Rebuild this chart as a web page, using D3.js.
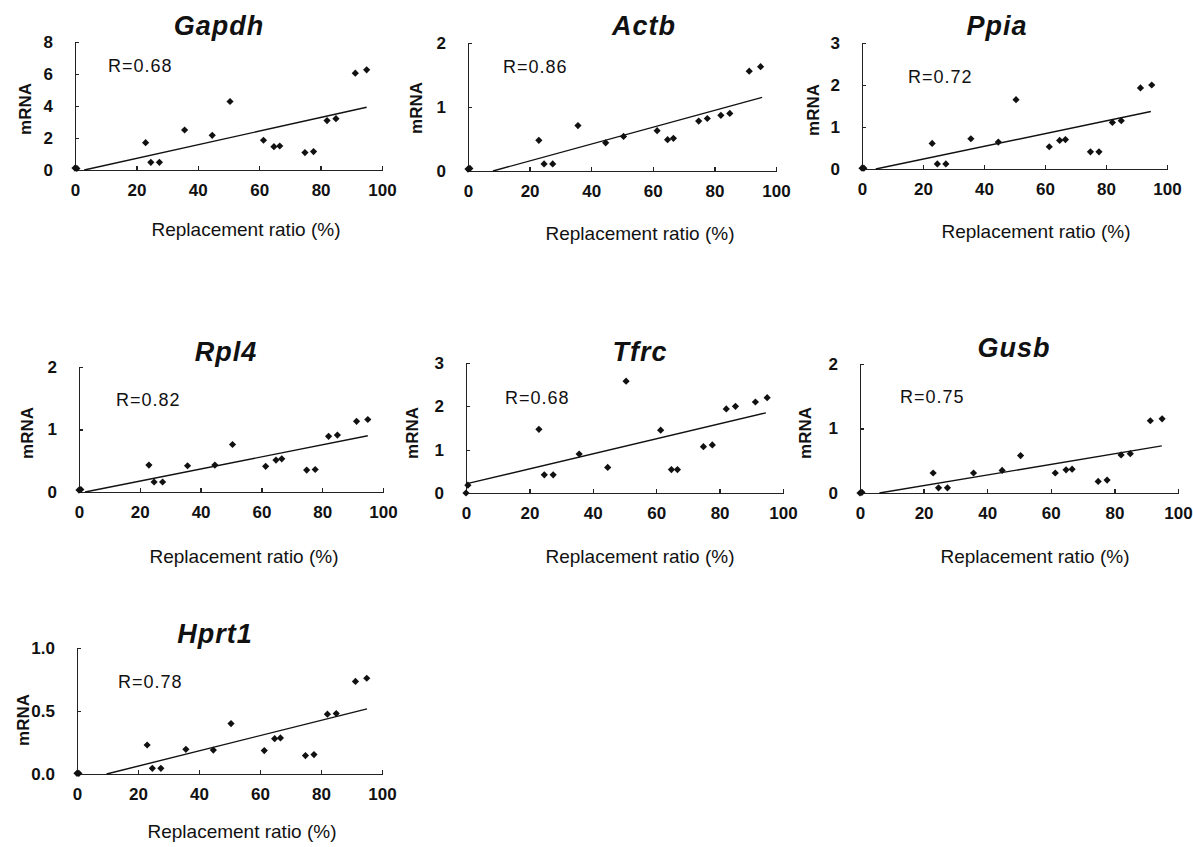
<!doctype html>
<html lang="en">
<head>
<meta charset="utf-8">
<script src="https://cdn.jsdelivr.net/npm/d3@7"></script>
<style>
body { margin: 0; background: #fff; }
svg text { font-family: "Liberation Sans", Arial, sans-serif; fill: #111; }
.axis path, .axis line { stroke: #222; stroke-width: 1.3; shape-rendering: crispEdges; }
.axis text { font-size: 17px; font-weight: bold; }
.title { font-size: 27px; font-weight: bold; font-style: italic; letter-spacing: 1px; }
.rlab { font-size: 18px; letter-spacing: 1px; }
.xlab { font-size: 19px; }
.ylab { font-size: 17px; font-weight: bold; }
.fit { stroke: #111; stroke-width: 1.4; fill: none; }
.dot { fill: #111; }
</style>
</head>
<body>
<svg id="chart" width="1193" height="847"></svg>
<script>
//=============================== DATA ===================================
var genes   = ['Gapdh', 'Actb', 'Ppia', 'Rpl4', 'Tfrc', 'Gusb', 'Hprt1']
var rLabels = ['R=0.68', 'R=0.86', 'R=0.72', 'R=0.82', 'R=0.68', 'R=0.75', 'R=0.78']

// replacement ratio (%) of each sample, same for every gene
var ratio = [0, 0.6, 23, 24.7, 27.5, 35.7, 44.7, 50.5, 61.4, 64.8, 66.7, 74.9, 77.7, 82.1, 85, 91.3, 95]

var gapdh = [0.12, 0.1, 1.71, 0.48, 0.48, 2.5, 2.17, 4.28, 1.86, 1.46, 1.5, 1.09, 1.15, 3.09, 3.21, 6.05, 6.26]
var actb  = [0.03, 0.04, 0.48, 0.11, 0.11, 0.71, 0.44, 0.54, 0.63, 0.49, 0.51, 0.78, 0.82, 0.87, 0.9, 1.56, 1.63]
var ppia  = [0.02, 0.02, 0.61, 0.12, 0.12, 0.72, 0.64, 1.65, 0.53, 0.68, 0.7, 0.41, 0.41, 1.11, 1.15, 1.93, 2.0]
var rpl4  = [0.03, 0.04, 0.43, 0.16, 0.16, 0.42, 0.43, 0.76, 0.41, 0.51, 0.53, 0.35, 0.36, 0.89, 0.91, 1.13, 1.16]
var tfrc  = [0, 0.18, 1.47, 0.42, 0.42, 0.9, 0.59, 2.58, 1.45, 0.54, 0.54, 1.07, 1.11, 1.94, 2.0, 2.1, 2.2]
var gusb  = [0, 0.01, 0.31, 0.08, 0.08, 0.31, 0.35, 0.58, 0.31, 0.36, 0.37, 0.18, 0.2, 0.59, 0.61, 1.12, 1.15]
var hprt1 = [0.005, 0.005, 0.23, 0.045, 0.045, 0.196, 0.19, 0.4, 0.186, 0.28, 0.286, 0.146, 0.154, 0.475, 0.48, 0.735, 0.76]
var series = [gapdh, actb, ppia, rpl4, tfrc, gusb, hprt1]

// linear trend lines, [start, end] as [ratio, mRNA]
var fits = [
	[[3, 0], [95, 3.92]],
	[[8.1, 0], [95.5, 1.15]],
	[[4.5, 0], [94.7, 1.37]],
	[[2, 0], [95, 0.9]],
	[[0, 0.21], [94.6, 1.85]],
	[[6.1, 0], [94.9, 0.73]],
	[[9.7, 0], [95.1, 0.517]]
]

var yTicks = [[0, 2, 4, 6, 8], [0, 1, 2], [0, 1, 2, 3], [0, 1, 2], [0, 1, 2, 3], [0, 1, 2], [0, 0.5, 1.0]]
var xTicks = [0, 20, 40, 60, 80, 100]

//=============================== LAYOUT =================================
// x0/x1: pixel of 0 and 100 %, yt/yb: top and bottom of y axis
var layout = [
	{x0: 75,  x1: 382,  yt: 42,  yb: 170, tx: 219,  ty: 35,  rx: 108, ry: 72,  lx: 246,  ly: 236, mx: 25,  my: 109},
	{x0: 468, x1: 776,  yt: 43,  yb: 171, tx: 644,  ty: 35,  rx: 503, ry: 73,  lx: 640,  ly: 240, mx: 416, my: 108},
	{x0: 862, x1: 1167, yt: 43,  yb: 169, tx: 997,  ty: 35,  rx: 908, ry: 83,  lx: 1036, ly: 238, mx: 813, my: 110},
	{x0: 79,  x1: 383,  yt: 367, yb: 492, tx: 226,  ty: 361, rx: 116, ry: 406, lx: 244,  ly: 563, mx: 27,  my: 433},
	{x0: 466, x1: 783,  yt: 363, yb: 493, tx: 640,  ty: 361, rx: 505, ry: 404, lx: 640,  ly: 563, mx: 412, my: 433},
	{x0: 860, x1: 1178, yt: 364, yb: 493, tx: 1014, ty: 357, rx: 900, ry: 403, lx: 1035, ly: 563, mx: 805, my: 433},
	{x0: 77,  x1: 382,  yt: 648, yb: 774, tx: 215,  ty: 643, rx: 118, ry: 688, lx: 242,  ly: 838, mx: 23,  my: 720}
]

//=============================== DRAW ===================================
var svg = d3.select('#chart')
var diamond = d3.symbol().type(d3.symbolSquare).size(26)

genes.forEach(function(gene, i) {
	var L = layout[i]
	var yt = yTicks[i]
	var x = d3.scaleLinear().domain([0, 100]).range([L.x0, L.x1])
	var y = d3.scaleLinear().domain([0, yt[yt.length - 1]]).range([L.yb, L.yt])
	var g = svg.append('g')

	var fmt = i == 6 ? d3.format('.1f') : d3.format('d')

	g.append('g').attr('class', 'axis')
		.attr('transform', 'translate(0,' + L.yb + ')')
		.call(d3.axisBottom(x).tickValues(xTicks).tickSize(-4).tickSizeOuter(0).tickPadding(14))

	g.append('g').attr('class', 'axis')
		.attr('transform', 'translate(' + L.x0 + ',0)')
		.call(d3.axisLeft(y).tickValues(yt).tickFormat(fmt).tickSize(-4).tickSizeOuter(0).tickPadding(22))

	g.append('text').attr('class', 'title')
		.attr('x', L.tx).attr('y', L.ty)
		.attr('text-anchor', 'middle')
		.text(gene)

	g.append('text').attr('class', 'rlab')
		.attr('x', L.rx).attr('y', L.ry)
		.text(rLabels[i])

	g.append('text').attr('class', 'xlab')
		.attr('x', L.lx).attr('y', L.ly)
		.attr('text-anchor', 'middle')
		.text('Replacement ratio (%)')

	g.append('text').attr('class', 'ylab')
		.attr('transform', 'translate(' + (L.mx + 6) + ',' + L.my + ') rotate(-90)')
		.attr('text-anchor', 'middle')
		.text('mRNA')

	g.append('path').attr('class', 'fit')
		.datum(fits[i])
		.attr('d', d3.line().x(function(d) { return x(d[0]) }).y(function(d) { return y(d[1]) }))

	g.selectAll('path.dot')
		.data(series[i]).enter()
		.append('path').attr('class', 'dot')
		.attr('d', diamond)
		.attr('transform', function(d, j) {
			return 'translate(' + x(ratio[j]) + ',' + y(d) + ') rotate(45)'
		})
})
</script>
</body>
</html>
